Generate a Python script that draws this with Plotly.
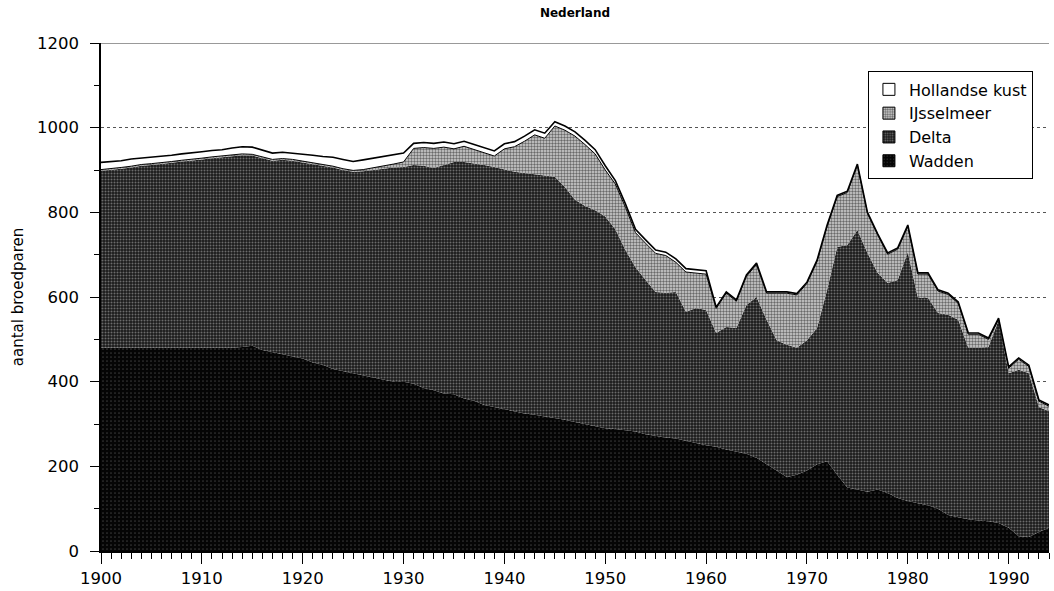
import plotly.graph_objects as go

years = list(range(1900, 1995))

wadden = [480, 480, 480, 480, 480, 480, 480, 480, 480, 480,
          480, 480, 480, 480, 482, 485, 475, 470, 465, 460,
          455, 445, 440, 430, 425, 420, 415, 410, 405, 400,
          400, 395, 385, 380, 372, 370, 360, 355, 345, 340,
          335, 330, 325, 322, 318, 315, 310, 305, 300, 295,
          290, 288, 285, 282, 276, 272, 268, 266, 260, 255,
          250, 246, 240, 235, 230, 220, 205, 190, 175, 180,
          190, 205, 212, 180, 150, 145, 140, 145, 137, 125,
          118, 113, 108, 100, 85, 80, 75, 72, 70, 66,
          55, 35, 33, 45, 55]

delta = [418, 420, 423, 426, 430, 432, 434, 437, 440, 442,
         445, 448, 450, 452, 453, 449, 453, 452, 459, 462,
         463, 469, 470, 476, 475, 476, 482, 490, 498, 506,
         507, 517, 525, 525, 540, 549, 559, 561, 567, 567,
         567, 566, 568, 568, 569, 569, 550, 525, 515, 510,
         500, 472, 426, 388, 364, 340, 342, 346, 305, 319,
         319, 269, 289, 292, 351, 380, 341, 308, 312, 300,
         308, 322, 405, 538, 573, 613, 564, 512, 496, 515,
         588, 485, 490, 462, 473, 466, 405, 408, 412, 479,
         365, 393, 387, 295, 275]

ijsselmeer = [3, 3, 3, 3, 3, 3, 3, 3, 3, 3,
              3, 3, 3, 3, 3, 3, 3, 3, 3, 3,
              3, 3, 3, 3, 3, 3, 4, 5, 6, 8,
              12, 39, 43, 46, 42, 31, 37, 32, 28, 26,
              48, 59, 75, 93, 88, 120, 134, 150, 145, 133,
              110, 107, 101, 82, 87, 91, 88, 70, 94, 83,
              85, 58, 80, 63, 68, 77, 63, 111, 122, 125,
              134, 157, 150, 119, 124, 153, 93, 90, 68, 73,
              61, 56, 56, 52, 48, 39, 32, 32, 18, 2,
              12, 25, 16, 14, 12]

hollandse_kust = [17, 17, 16, 17, 15, 15, 16, 15, 15, 15,
                  15, 15, 15, 17, 17, 17, 16, 15, 15, 15,
                  17, 18, 19, 21, 22, 21, 23, 23, 23, 21,
                  21, 12, 12, 12, 12, 12, 12, 12, 12, 12,
                  12, 12, 12, 12, 12, 10, 10, 10, 10, 10,
                  10, 8, 8, 8, 8, 8, 8, 8, 8, 8,
                  8, 3, 3, 3, 3, 3, 3, 3, 3, 3,
                  3, 3, 3, 3, 3, 3, 3, 3, 3, 3,
                  3, 3, 3, 3, 3, 3, 3, 3, 3, 3,
                  3, 3, 3, 3, 3]

series_names = ["Wadden", "Delta", "IJsselmeer", "Hollandse kust"]
y_ticks = [0, 200, 400, 600, 800, 1000, 1200]
x_ticks = list(range(1900, 1991, 10))

patterns = {
    "Wadden": dict(shape=".", bgcolor="#050505", fgcolor="#666666", size=4, solidity=0.15),
    "Delta": dict(shape=".", bgcolor="#1a1a1a", fgcolor="#bbbbbb", size=3, solidity=0.35),
    "IJsselmeer": dict(shape=".", bgcolor="#d2d2d2", fgcolor="#000000", size=3, solidity=0.5),
    "Hollandse kust": dict(shape="", bgcolor="#ffffff", fgcolor="#ffffff"),
}
fills = {"Wadden": "#0a0a0a", "Delta": "#333333", "IJsselmeer": "#999999", "Hollandse kust": "#ffffff"}
lines = {"Wadden": 0, "Delta": 0, "IJsselmeer": 1, "Hollandse kust": 1.6}
values = {"Wadden": wadden, "Delta": delta, "IJsselmeer": ijsselmeer, "Hollandse kust": hollandse_kust}

fig = go.Figure()

for name in series_names:
    p = patterns[name]
    kw = {}
    if p["shape"]:
        kw["fillpattern"] = p
    fig.add_trace(go.Scatter(
        x=years, y=values[name], name=name, stackgroup="one", mode="lines",
        line=dict(width=lines[name], color="#000"),
        fillcolor=fills[name], showlegend=False, hoverinfo="x+y+name", **kw,
    ))

# legend-only entries with square swatches
for name in series_names:
    p = patterns[name]
    marker = dict(color=fills[name], line=dict(color="#000", width=1))
    if p["shape"]:
        marker["pattern"] = p
    fig.add_trace(go.Bar(
        x=[1800], y=[1], name=name, marker=marker, showlegend=True, hoverinfo="skip",
    ))

fig.add_shape(type="line", xref="paper", yref="y", x0=0, x1=1, y0=1200, y1=1200,
              line=dict(color="#999999", width=2))

fig.update_layout(
    width=1054, height=591,
    margin=dict(l=101, r=5, t=43, b=40),
    paper_bgcolor="white", plot_bgcolor="white",
    font=dict(family="DejaVu Sans, Liberation Sans, Arial, sans-serif", size=16, color="#000"),
    title=dict(text="<b>Nederland</b>", x=0.5, xref="paper", xanchor="center",
               y=1 - 13 / 591, yref="container", yanchor="middle", font=dict(size=12)),
    showlegend=True,
    legend=dict(x=0.809, y=0.944, xanchor="left", yanchor="top",
                traceorder="reversed", bordercolor="#000", borderwidth=1,
                bgcolor="white", font=dict(size=16), tracegroupgap=0,
                itemwidth=30),
    xaxis=dict(range=[1900, 1994], tickvals=x_ticks, ticks="outside", ticklen=11,
               tickcolor="#000", showline=True, linecolor="#000", linewidth=1.5,
               showgrid=False, zeroline=False, automargin=False,
               tickfont=dict(size=16.5),
               minor=dict(dtick=1, tick0=1900, ticks="outside", ticklen=6, tickcolor="#000")),
    yaxis=dict(range=[0, 1200], tickvals=y_ticks, ticks="outside", ticklen=9,
               tickcolor="#000", showline=True, linecolor="#000", linewidth=1.5,
               showgrid=True, gridcolor="#555555", griddash="dot", gridwidth=1,
               zeroline=False, ticklabelstandoff=8, automargin=False,
               tickfont=dict(size=16.5),
               title=dict(text="aantal broedparen", font=dict(size=15), standoff=10),
               minor=dict(dtick=100, tick0=0, ticks="outside", ticklen=5, tickcolor="#000")),
)

fig.write_html(
    "out.html",
    config={"displayModeBar": False},
    post_script="document.body.style.margin='0';document.body.style.overflow='hidden';",
)
